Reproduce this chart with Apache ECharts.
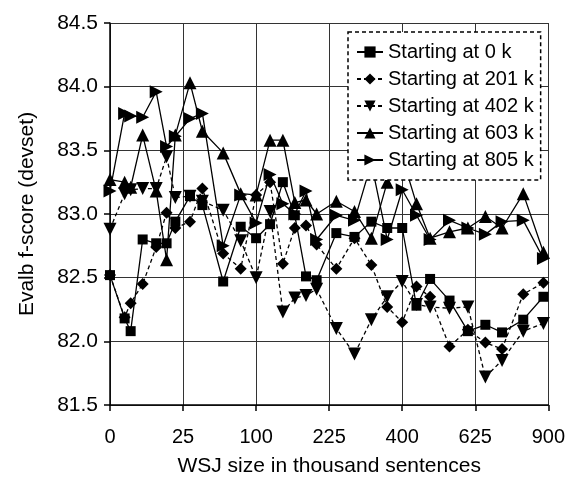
<!DOCTYPE html>
<html>
<head>
<meta charset="utf-8">
<script src="https://cdn.jsdelivr.net/npm/echarts@6/dist/echarts.min.js"></script>
<style>
  html, body { margin: 0; padding: 0; background: #fff; }
  #chart { width: 568px; height: 482px; }
</style>
</head>
<body>
<div id="chart"></div>
<script>
// WSJ size (thousand sentences) at each measurement
const sizes = [0, 1, 2, 5, 10, 15, 20, 30, 40, 60, 80, 100, 120, 140, 160, 180, 200,
  240, 280, 320, 360, 400, 440, 480, 540, 600, 660, 720, 800, 880];

const start0 = [82.52, 82.18, 82.08, 82.80, 82.77, 82.77, 82.94, 83.14, 83.07, 82.47, 82.90,
  82.81, 82.92, 83.25, 82.99, 82.51, 82.48, 82.85, 82.82, 82.94, 82.89, 82.89, 82.28, 82.49,
  82.32, 82.08, 82.13, 82.07, 82.17, 82.35];
const start201 = [82.52, 82.19, 82.30, 82.45, 82.74, 83.01, 82.89, 82.94, 83.20, 82.69, 82.57,
  83.15, 83.25, 82.61, 82.89, 82.91, 82.76, 82.57, 82.81, 82.60, 82.27, 82.15, 82.43, 82.35,
  81.96, 82.09, 81.99, 81.94, 82.37, 82.46];
const start402 = [82.88, 83.16, 83.19, 83.20, 83.20, 83.45, 83.13, 83.14, 83.10, 83.03, 82.79,
  82.50, 83.02, 82.23, 82.34, 82.36, 82.41, 82.10, 81.90, 82.17, 82.35, 82.47, 82.29, 82.27,
  82.26, 82.27, 81.72, 81.85, 82.08, 82.14];
const start603 = [83.27, 83.25, 83.21, 83.62, 83.18, 82.64, 83.62, 84.03, 83.65, 83.48, 83.16,
  83.15, 83.58, 83.58, 83.09, 83.11, 83.00, 83.10, 83.02, 82.81, 83.25, 83.45, 83.08, 82.81,
  82.86, 82.89, 82.98, 82.89, 83.16, 82.70];
const start805 = [83.18, 83.79, 83.77, 83.76, 83.96, 83.53, 83.61, 83.75, 83.79, 82.75, 83.15,
  82.93, 83.31, 83.08, 83.00, 83.18, 82.80, 82.99, 82.95, 83.40, 82.80, 83.19, 82.99, 82.80,
  82.95, 82.89, 82.84, 82.94, 82.95, 82.65];

const xTicks = [0, 25, 100, 225, 400, 625, 900];   // square-root axis
const yMin = 81.5, yMax = 84.5, yStep = 0.5;

const chart = echarts.init(document.getElementById('chart'));

// x axis is drawn on sqrt(size)
function pts(vals) {
  return sizes.map((s, i) => [Math.sqrt(s), vals[i]]);
}

function mkSeries(name, vals, symbol, rotate, dashed, size) {
  return {
    name: name,
    type: 'line',
    data: pts(vals),
    symbol: symbol,
    symbolRotate: rotate,
    symbolSize: size,
    showAllSymbol: true,
    itemStyle: { color: '#000' },
    lineStyle: { color: '#000', width: 1.3, type: dashed ? [4, 3] : 'solid' }
  };
}

const font = 'Liberation Sans, Arial, sans-serif';

const option = {
  animation: false,
  backgroundColor: '#fff',
  grid: { left: 110, right: 17, top: 23, bottom: 77 },
  legend: {
    orient: 'vertical',
    left: 348,
    top: 32,
    padding: [10, 7, 10, 8],
    itemGap: 7,
    itemWidth: 26,
    itemHeight: 14,
    backgroundColor: '#fff',
    borderColor: '#000',
    borderWidth: 1.5,
    borderType: [4, 3],
    borderRadius: 0,
    textStyle: { fontFamily: font, fontSize: 20, color: '#000', padding: [0, 0, 0, 0] },
    data: ['Starting at 0 k', 'Starting at 201 k', 'Starting at 402 k', 'Starting at 603 k', 'Starting at 805 k']
  },
  xAxis: {
    type: 'value',
    min: 0,
    max: Math.sqrt(xTicks[xTicks.length - 1]),
    interval: 5,
    name: 'WSJ size in thousand sentences',
    nameLocation: 'middle',
    nameGap: 51,
    nameTextStyle: { fontFamily: font, fontSize: 21, color: '#000' },
    axisLine: { lineStyle: { color: '#000', width: 1.5 } },
    axisTick: { show: true, length: 6, lineStyle: { color: '#000', width: 1.5 } },
    axisLabel: {
      margin: 22,
      fontFamily: font, fontSize: 20, color: '#000',
      formatter: v => String(Math.round(v * v))
    },
    splitLine: { show: true, lineStyle: { color: '#333', width: 1 } }
  },
  yAxis: {
    type: 'value',
    min: yMin,
    max: yMax,
    interval: yStep,
    name: 'Evalb f-score (devset)',
    nameLocation: 'middle',
    nameGap: 72,
    nameTextStyle: { fontFamily: font, fontSize: 21, color: '#000' },
    axisLine: { show: true, lineStyle: { color: '#000', width: 1.5 } },
    axisTick: { show: true, length: 6, lineStyle: { color: '#000', width: 1.5 } },
    axisLabel: {
      margin: 12,
      fontFamily: font, fontSize: 21, color: '#000',
      formatter: v => v.toFixed(1)
    },
    splitLine: { show: true, lineStyle: { color: '#333', width: 1 } }
  },
  series: [
    mkSeries('Starting at 0 k', start0, 'rect', 0, false, 10),
    mkSeries('Starting at 201 k', start201, 'diamond', 0, true, 12),
    mkSeries('Starting at 402 k', start402, 'triangle', 180, true, 13),
    mkSeries('Starting at 603 k', start603, 'triangle', 0, false, 13),
    mkSeries('Starting at 805 k', start805, 'triangle', -90, false, 13)
  ]
};

chart.setOption(option);
</script>
</body>
</html>
